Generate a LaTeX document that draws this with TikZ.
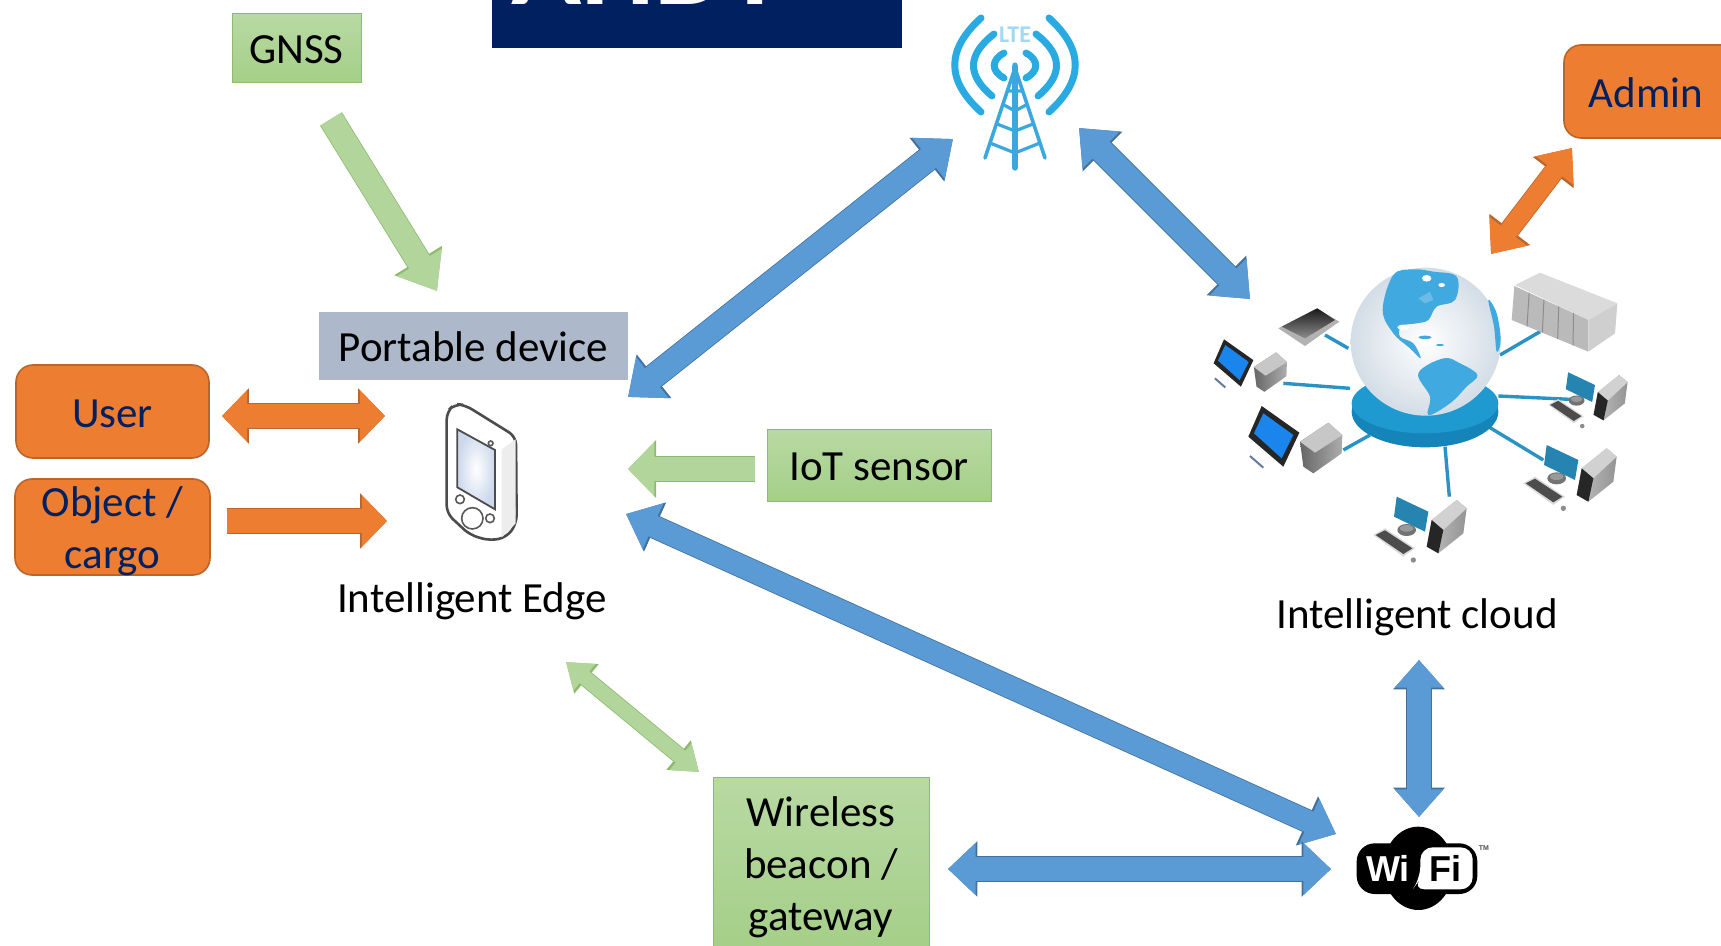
\documentclass[tikz,border=0pt]{standalone}
\usepackage{fontspec}
\setmainfont{Carlito}
\newfontfamily\wifont{Liberation Sans}
\usetikzlibrary{arrows.meta}
\definecolor{navyt}{HTML}{002060}
\definecolor{orf}{HTML}{ED7D31}
\definecolor{ore}{HTML}{B9652B}
\definecolor{blf}{HTML}{5B9BD5}
\definecolor{ble}{HTML}{41719C}
\definecolor{grf}{HTML}{B2D59B}
\definecolor{gre}{HTML}{8DBB6E}
\definecolor{grt}{HTML}{B8D9A3}
\definecolor{grb}{HTML}{A5CF88}
\definecolor{slate}{HTML}{ADB9CA}
\definecolor{scr}{HTML}{CCD8EC}
\definecolor{towerb}{HTML}{3BA7DC}
\definecolor{arcb}{HTML}{29ABE2}
\definecolor{land}{HTML}{3FA9E0}
\definecolor{cable}{HTML}{2A93C4}
\definecolor{disct}{HTML}{1F9AD0}
\definecolor{discb}{HTML}{1584B8}
\definecolor{globeo}{HTML}{D3DDE6}
\newcommand{\dn}[2]{\raisebox{-#1pt}[\height][\depth]{#2}}
\tikzset{
  lab/.style={font=\fontsize{21.5}{26}\selectfont, align=center, inner sep=0pt},
  greenbox/.style={lab, draw=gre, line width=.5pt, top color=grt, bottom color=grb},
  orangebox/.style={lab, text=navyt, draw=ore, line width=.8pt, fill=orf, rounded corners=8.5pt},
  dblarrow/.style n args={5}{color=#1, line width=#3pt,
    arrows={Triangle[length=0pt #5,width=0pt #4]-Triangle[length=0pt #5,width=0pt #4]},
    preaction={draw=#2, line width=#3pt+.8pt,
      arrows={Triangle[length=0pt #5,width=0pt #4]-Triangle[length=0pt #5,width=0pt #4]}}},
  oneArrow/.style n args={5}{color=#1, line width=#3pt,
    arrows={-Triangle[length=0pt #5,width=0pt #4]},
    preaction={draw=#2, line width=#3pt+.8pt,
      arrows={-Triangle[length=0pt #5,width=0pt #4]}}},
  bluearrow/.style={dblarrow={blf}{ble}{12}{2.1}{1.3}},
  orangearrow/.style={dblarrow={orf}{ore}{12}{2.1}{1.05}},
  pcset/.pic={
    \fill[black!55] (-65,55) ellipse [x radius=28, y radius=18];
    \fill[white!60!black] (-65,50) ellipse [x radius=20, y radius=10];
    \fill[cable!90!black] (-95,-45) -- (0,0) -- (-10,60) -- (-103,15) -- cycle;
    \fill[white!85!black] (-165,70) -- (-130,50) -- (-40,110) -- (-75,135) -- cycle;
    \fill[black!70] (-158,70) -- (-130,56) -- (-48,110) -- (-75,127) -- cycle;
    \fill[black!45] (-45,145) circle [radius=8];
    \shade[left color=black!25, right color=black!42] (10,25) -- (85,-35) -- (115,-10) -- (105,65) -- (30,125) -- (-5,105) -- cycle;
    \fill[black!18] (10,25) -- (85,-35) -- (115,-10) -- (45,55) -- cycle;
    \fill[black!85] (10,25) -- (45,55) -- (30,125) -- (-5,105) -- cycle;
  },
  termset/.pic={
    \fill[black!85] (0,0) -- (113,80) -- (65,182) -- (-40,92) -- cycle;
    \fill[arcb!70!blue!90!cyan] (5,22) -- (95,87) -- (60,157) -- (-23,82) -- cycle;
    \draw[navyt!60, line width=1pt] (-35,150) -- (5,185);
    \shade[left color=black!60, right color=black!32] (115,107) -- (200,50) -- (242,87) -- (240,142) -- (155,202) -- (125,182) -- cycle;
    \fill[black!22] (115,107) -- (200,50) -- (242,87) -- (160,140) -- cycle;
  }
}
\begin{document}
\begin{tikzpicture}[x=.5pt,y=-.5pt]
\clip (0,0) rectangle (1721,946);
\useasboundingbox (0,0) rectangle (1721,946);
% title band
\fill[navyt] (492,0) rectangle (902,48);
\node[anchor=base west, inner sep=0pt, text=white, font=\bfseries\fontsize{58}{60}\selectfont] (title) at (511,5) {AHDT};
% boxes
\node[greenbox, minimum width=64.5pt, minimum height=34.5pt] (gnss) at (296.5,48.5) {\dn{.5}{GNSS}};
\node[lab, fill=slate, minimum width=154.5pt, minimum height=34pt] (portable) at (473.5,346) {\dn{.5}{Portable device}};
\node[orangebox, minimum width=96.5pt, minimum height=46.5pt] (user) at (112.5,411.5) {\dn{1}{User}};
\node[orangebox, minimum width=97.5pt, minimum height=48pt] (object) at (112.5,527) {\dn{2}{Object /}\\\dn{2}{cargo}};
\node[greenbox, minimum width=112pt, minimum height=36pt] (iot) at (879,466) {\dn{.5}{IoT sensor}};
\node[greenbox, minimum width=108pt, minimum height=86pt] (beacon) at (821,864) {\dn{1.5}{Wireless}\\\dn{1.5}{beacon /}\\\dn{1.5}{gateway}};
\node[lab, text=navyt, draw=ore, line width=.8pt, fill=orf, rounded corners=8.5pt, minimum width=90pt, minimum height=46.5pt] (admin) at (1654,91.5) {};
\node[lab, text=navyt] (admintext) at (1646,93) {Admin};
\node[lab] (edgelabel) at (472,601) {Intelligent Edge};
\node[lab] (cloudlabel) at (1417,617) {Intelligent cloud};
% named arrow ends
\coordinate (pA) at (628,397); \coordinate (lA) at (953,139);
\coordinate (lB) at (1079,128); \coordinate (cB) at (1250,299);
\coordinate (eC) at (626,514); \coordinate (wC) at (1336,834);
\coordinate (cD) at (1419,660); \coordinate (wD) at (1419,817);
\coordinate (bE) at (948,869); \coordinate (wE) at (1331,869);
\coordinate (aF) at (1572,148); \coordinate (cF) at (1491,254);
\coordinate (uG) at (222,416); \coordinate (dG) at (385,416);
\coordinate (oH) at (227,521); \coordinate (dH) at (387,521);
\coordinate (gI) at (331,119); \coordinate (dI) at (437,291);
\coordinate (sJ) at (755,469); \coordinate (dJ) at (628,469);
\coordinate (eK) at (566,662); \coordinate (bK) at (699,772);
% connectors
\draw[bluearrow] (pA) -- (lA);
\draw[bluearrow] (lB) -- (cB);
\draw[dblarrow={blf}{ble}{11}{2.2}{1.35}] (eC) -- (wC);
\draw[dblarrow={blf}{ble}{12}{1.95}{1.15}] (cD) -- (wD);
\draw[dblarrow={blf}{ble}{12}{2.1}{1.15}] (bE) -- (wE);
\draw[dblarrow={orf}{ore}{9.5}{2.4}{1.5}] (aF) -- (cF);
\draw[orangearrow] (uG) -- (dG);
\draw[oneArrow={orf}{ore}{12}{2.1}{1.05}] (oH) -- (dH);
\draw[oneArrow={grf}{gre}{12}{2.1}{1.4}] (gI) -- (dI);
\draw[oneArrow={grf}{gre}{12}{2.2}{1.1}] (sJ) -- (dJ);
\draw[dblarrow={grf}{gre}{7.5}{2.2}{1.6}] (eK) -- (bK);
% LTE tower
\begin{scope}[line cap=round]
\foreach \m/\c in {1/0,-1/2030}{
  \begin{scope}[arcb, line width=3.5pt]
  \draw ({\c+\m*981},18) .. controls ({\c+\m*946},50) and ({\c+\m*946},80) .. ({\c+\m*981},112);
  \draw ({\c+\m*994},34) .. controls ({\c+\m*967},55) and ({\c+\m*967},75) .. ({\c+\m*992},96);
  \draw ({\c+\m*1004},53) .. controls ({\c+\m*991},60) and ({\c+\m*991},71) .. ({\c+\m*1004},78);
  \end{scope}}
\draw[towerb, line width=2.6pt] (1015,66) -- (1015,168);
\draw[towerb, line width=1.8pt] (1015,68) -- (985,158) (1015,68) -- (1045,158);
\draw[towerb, line width=1.6pt] (1008,91) -- (1022,91) (1004,105) -- (1015,111) -- (1026,105) (997,124) -- (1015,131) -- (1033,124) (990,143) -- (1015,153) -- (1040,143);
\fill[towerb] (1015,65) circle [radius=2.5];
\end{scope}
\node[inner sep=0pt, text=arcb!45, font=\bfseries\fontsize{12}{12}\selectfont] (lte) at (1015,35) {LTE};
% Phone
\begin{scope}[shift={(400,380)}, x=.16667pt, y=-.16667pt]
\draw[black!70, line width=1.3pt, fill=white, rounded corners=4pt] (140,95) -- (165,72) -- (195,75) -- (348,170) -- (350,430) -- (320,472) -- (270,482) -- (210,465) -- (140,400) -- cycle;
\fill[black!7] (305,208) -- (347,178) -- (347,430) -- (305,472) -- cycle;
\draw[black!70, line width=.9pt, inner color=white, outer color=scr] (172,148) -- (285,210) -- (285,388) -- (172,322) -- cycle;
\draw[black!65, line width=.8pt, fill=white] (180,358) circle [radius=13] (217,415) circle [radius=32] (270,415) circle [radius=13] (272,190) circle [radius=7];
\end{scope}
% Cloud illustration
\begin{scope}[shift={(1180,240)}, x=.16667pt, y=-.16667pt]
\draw[cable, line width=1.7pt] (435,285) -- (505,325) (310,430) -- (510,445) (490,630) -- (570,585) (795,620) -- (808,770) (925,560) -- (1090,660) (955,468) -- (1170,478) (960,345) -- (1080,275);
\fill[discb] (735,515) ellipse [x radius=220, y radius=107];
\fill[disct] (735,490) ellipse [x radius=220, y radius=90];
\shade[inner color=white, outer color=globeo] (737,305) ellipse [x radius=225, y radius=222];
\fill[land] plot[smooth cycle, tension=.6] coordinates {(640,105) (700,88) (760,95) (830,110) (825,180) (770,200) (745,240) (710,250) (665,258) (660,290) (700,310) (722,355) (690,325) (640,280) (608,210)};
\fill[land] plot[smooth cycle, tension=.6] coordinates {(715,400) (790,355) (840,370) (892,405) (860,440) (810,490) (745,525) (750,470)};
\fill[land] plot[smooth cycle, tension=.6] coordinates {(925,180) (950,220) (962,300) (950,335) (942,260)};
\fill[cyan!50!land!70] (715,175) -- (750,155) -- (760,180) -- (735,190) -- cycle;
\fill[white] (740,115) ellipse [x radius=14, y radius=10] (785,135) ellipse [x radius=10, y radius=6] (670,262) ellipse [x radius=18, y radius=8];
\fill[land] (735,292) ellipse [x radius=20, y radius=5] (780,315) ellipse [x radius=12, y radius=3];
% scanner
\fill[black!30] (295,265) -- (410,205) -- (478,245) -- (375,318) -- cycle;
\shade[top color=black!90, bottom color=black!45] (305,260) -- (412,205) -- (465,240) -- (375,295) -- cycle;
% server
\fill[black!14] (1005,135) -- (1080,98) -- (1312,190) -- (1225,240) -- cycle;
\fill[black!27] (1003,138) -- (1225,240) -- (1225,335) -- (995,240) -- cycle;
\fill[black!19] (1225,240) -- (1312,190) -- (1305,280) -- (1225,335) -- cycle;
\foreach \k in {.2,.4,.6,.8}{\draw[black!45, line width=.5pt] ({1003+222*\k},{138+102*\k}) -- ({995+230*\k},{240+95*\k});}
% devices
\pic at (1195,660) {pcset};
\pic[scale=.85] at (1245,435) {pcset};
\pic at (745,815) {pcset};
\pic at (245,498) {termset};
\pic[scale=.78] at (132,298) {termset};
\end{scope}
% WiFi logo
\begin{scope}[shift={(1320,800)}, x=.16667pt, y=-.16667pt]
\fill[black] (295,205) ellipse [x radius=105, y radius=125];
\fill[black, rounded corners=9pt] (110,130) rectangle (472,282);
\fill[white, rounded corners=6pt] (302,142) -- (458,142) -- (458,268) -- (278,268) -- (300,238) -- cycle;
\end{scope}
\node[inner sep=0pt, text=white, font=\wifont\bfseries\fontsize{18}{18}\selectfont] (wi) at (1388,868) {Wi};
\node[inner sep=0pt, text=black, font=\wifont\bfseries\fontsize{18}{18}\selectfont] (fi) at (1445,868) {Fi};
\node[inner sep=0pt, text=black!70, font=\wifont\bfseries\fontsize{3.5}{4}\selectfont] (tm) at (1484,848) {TM};
\end{tikzpicture}
\end{document}
